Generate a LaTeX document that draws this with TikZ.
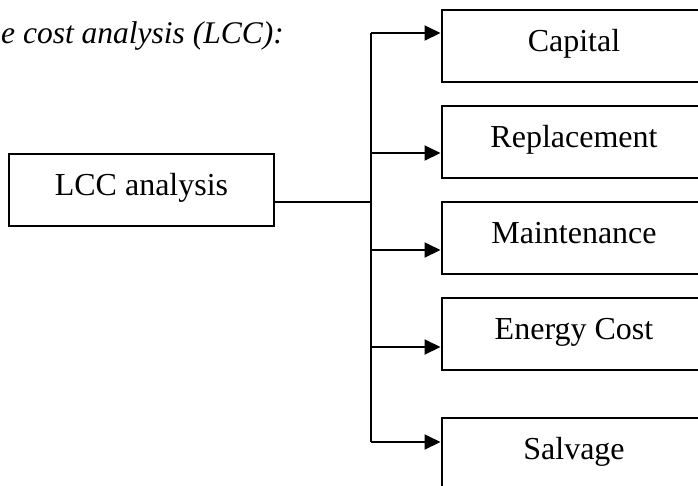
\documentclass[tikz,border=0pt]{standalone}
\usepackage{fontspec}
\setmainfont{Liberation Serif}
\usetikzlibrary{arrows.meta}
\begin{document}
\begin{tikzpicture}[x=1pt,y=-1pt,
  costbox/.style={draw, line width=2pt, inner sep=0pt,
    minimum width=265pt, minimum height=72pt,
    text height=41pt, text depth=31pt,
    font=\fontsize{32}{38}\selectfont},
  link/.style={line width=2pt},
  arr/.style={line width=2pt, -{Triangle[length=16pt,width=15pt]}}]
  \clip (0,0) rectangle (698,485);
  \fill[white] (0,0) rectangle (698,485);

  % heading
  \node[anchor=base west, inner sep=0pt, font=\fontsize{31.5}{38}\selectfont\itshape]
    (title) at (1,43) {e cost analysis (LCC):};

  % root box
  \node[costbox] (lcc) at (141.5,190) {LCC analysis};

  % cost categories
  \node[costbox] (cap) at (574,46)  {Capital};
  \node[costbox] (rep) at (574,142) {Replacement};
  \node[costbox] (mnt) at (574,238) {Maintenance};
  \node[costbox] (eng) at (574,334) {Energy Cost};
  \node[costbox] (slv) at (574,454) {Salvage};

  % branch points on the trunk
  \coordinate (j1) at (371,33);
  \coordinate (j2) at (371,153);
  \coordinate (j3) at (371,250);
  \coordinate (j4) at (371,347);
  \coordinate (j5) at (371,442);
  \coordinate (jl) at (371,202);

  \draw[link] (jl -| lcc.east) -- (jl);
  \draw[link] (j1) -- (j5);
  \draw[arr] (j1) -- (j1 -| cap.west);
  \draw[arr] (j2) -- (j2 -| rep.west);
  \draw[arr] (j3) -- (j3 -| mnt.west);
  \draw[arr] (j4) -- (j4 -| eng.west);
  \draw[arr] (j5) -- (j5 -| slv.west);
\end{tikzpicture}
\end{document}
